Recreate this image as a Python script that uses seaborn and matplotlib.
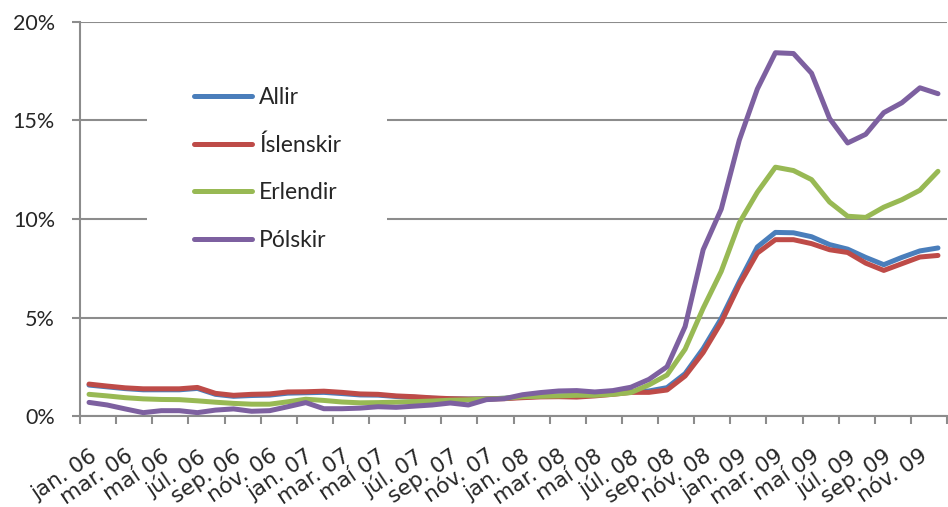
import numpy as np
import pandas as pd
import matplotlib
matplotlib.use("Agg")
import matplotlib.pyplot as plt
from matplotlib.patches import Rectangle
from matplotlib.lines import Line2D
from matplotlib.ticker import FuncFormatter, FixedLocator
import seaborn as sns

months = [f"{m} {y}" for y in ["06", "07", "08", "09"]
          for m in ["jan.", "feb.", "mar.", "apr.", "maí", "jún.", "júl.", "ágú.", "sep.", "okt.", "nóv.", "des."]]
tick_labels = months[::2]

allir = [1.57, 1.48, 1.39, 1.33, 1.33, 1.33, 1.40, 1.10, 1.00, 1.04, 1.06, 1.16,
         1.18, 1.20, 1.14, 1.07, 1.06, 0.99, 0.95, 0.90, 0.87, 0.86, 0.87, 0.90,
         0.96, 1.00, 1.02, 1.02, 1.06, 1.14, 1.23, 1.27, 1.44, 2.15, 3.42, 4.95,
         6.82, 8.58, 9.32, 9.30, 9.10, 8.70, 8.47, 8.05, 7.68, 8.05, 8.38, 8.53]
islenskir = [1.62, 1.52, 1.43, 1.38, 1.38, 1.38, 1.45, 1.15, 1.05, 1.10, 1.12, 1.22,
             1.23, 1.26, 1.20, 1.12, 1.10, 1.02, 0.98, 0.92, 0.88, 0.86, 0.86, 0.88,
             0.93, 0.97, 0.98, 0.96, 1.02, 1.10, 1.20, 1.20, 1.32, 2.03, 3.22, 4.75,
             6.66, 8.27, 8.95, 8.95, 8.75, 8.44, 8.30, 7.76, 7.39, 7.73, 8.07, 8.15]
erlendir = [1.10, 1.02, 0.93, 0.87, 0.84, 0.83, 0.77, 0.70, 0.64, 0.60, 0.60, 0.72,
            0.85, 0.79, 0.71, 0.67, 0.68, 0.70, 0.73, 0.76, 0.80, 0.82, 0.86, 0.90,
            0.98, 1.00, 1.02, 1.05, 1.05, 1.10, 1.19, 1.58, 2.08, 3.39, 5.47, 7.34,
            9.80, 11.36, 12.63, 12.46, 12.00, 10.86, 10.14, 10.08, 10.60, 10.98, 11.46, 12.42]
polskir = [0.69, 0.56, 0.36, 0.17, 0.27, 0.27, 0.17, 0.30, 0.36, 0.24, 0.27, 0.47,
           0.68, 0.37, 0.37, 0.40, 0.47, 0.44, 0.50, 0.56, 0.66, 0.56, 0.83, 0.88,
           1.08, 1.19, 1.27, 1.29, 1.22, 1.29, 1.46, 1.86, 2.50, 4.54, 8.44, 10.50,
           14.00, 16.60, 18.44, 18.40, 17.40, 15.10, 13.86, 14.30, 15.40, 15.90, 16.66, 16.36]

series_names = ["Allir", "Íslenskir", "Erlendir", "Pólskir"]
series_values = [allir, islenskir, erlendir, polskir]
colors = ["#4A7EBB", "#BE4B48", "#98B954", "#7D60A0"]

rows = []
for name, vals in zip(series_names, series_values):
    for i, v in enumerate(vals):
        rows.append({"idx": i, "month": months[i], "value": v, "series": name})
df = pd.DataFrame(rows)

sns.set_style("white")
plt.rcParams["font.family"] = ["Lato", "DejaVu Sans"]

fig = plt.figure(figsize=(9.48, 5.07), dpi=100)
ax = fig.add_axes([80 / 948, 1 - 416 / 507, 867 / 948, (416 - 22) / 507])

grid_c = "#8C8C8C"
ax.set_axisbelow(True)
ax.yaxis.grid(True, color=grid_c, linewidth=1.5)
ax.xaxis.grid(False)

LW = 3.6
sns.lineplot(data=df, x="idx", y="value", hue="series", hue_order=series_names,
             palette=colors, linewidth=LW, ax=ax, legend=False, zorder=3)

# white backdrop behind the legend (covers gridlines, below data lines)
bg = Rectangle((147, 507 - 280), 240, 220, transform=None, facecolor="white",
               edgecolor="none", zorder=1)
ax.add_artist(bg)

ax.set_xlim(-0.5, len(months) - 0.5)
ax.set_ylim(0, 20)
ax.set_yticks([0, 5, 10, 15, 20])
ax.yaxis.set_major_formatter(FuncFormatter(lambda v, p: f"{v:.0f}%"))
ax.tick_params(axis="y", length=6, width=1.5, color=grid_c, pad=12, labelsize=15.5, left=True)

ax.xaxis.set_major_locator(FixedLocator(np.arange(-0.5, len(months), 2)))
ax.xaxis.set_minor_locator(FixedLocator(np.arange(0, len(months), 2)))
ax.set_xticklabels([], minor=False)
ax.set_xticklabels(tick_labels, minor=True, family="DejaVu Sans", fontsize=15.5)
ax.tick_params(axis="x", which="major", length=6, width=1.5, color=grid_c, bottom=True)
ax.tick_params(axis="x", which="minor", length=0, pad=21.5, bottom=True)
for lbl in ax.get_xticklabels(minor=True):
    lbl.set_rotation(34)
    lbl.set_ha("right")
    lbl.set_va("top")
    lbl.set_rotation_mode("anchor")

ax.set_xlabel("")
ax.set_ylabel("")
for s in ["top", "right"]:
    ax.spines[s].set_visible(False)
for s in ["left", "bottom"]:
    ax.spines[s].set_color(grid_c)
    ax.spines[s].set_linewidth(1.5)

handles = [Line2D([0], [0], color=c, linewidth=LW, solid_capstyle="round") for c in colors]
leg = ax.legend(handles, series_names, loc="upper left",
                bbox_to_anchor=(194 / 948, 1 - 87 / 507), bbox_transform=fig.transFigure,
                frameon=False, fontsize=16.5, handlelength=2.55, handletextpad=0.3,
                labelspacing=1.15, borderpad=0, borderaxespad=0)
leg.set_zorder(5)

fig.savefig("out.png", dpi=100)
